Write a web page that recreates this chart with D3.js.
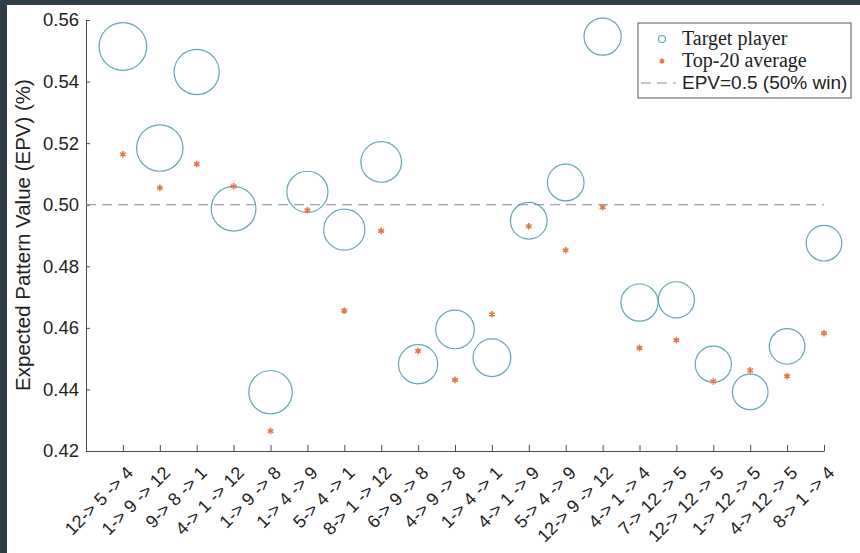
<!DOCTYPE html>
<html>
<head>
<meta charset="utf-8">
<script src="https://cdn.jsdelivr.net/npm/d3@7"></script>
<style>
  body { margin: 0; background: #2f3e46; }
  .axis text { font-family: "Liberation Sans", Arial, sans-serif; fill: #222; }
  .axis path, .axis line { stroke: #4a4a4a; }
</style>
</head>
<body>
<div id="epv"></div>
<script>
var patterns = ["12-> 5 -> 4", "1-> 9 -> 12", "9-> 8 -> 1", "4-> 1 -> 12", "1-> 9 -> 8",
                "1-> 4 -> 9", "5-> 4 -> 1", "8-> 1 -> 12", "6-> 9 -> 8", "4-> 9 -> 8",
                "1-> 4 -> 1", "4-> 1 -> 9", "5-> 4 -> 9", "12-> 9 -> 12", "4-> 1 -> 4",
                "7-> 12 -> 5", "12-> 12 -> 5", "1-> 12 -> 5", "4-> 12 -> 5", "8-> 1 -> 4"];
var targetEpv = [0.5514, 0.5184, 0.5431, 0.4987, 0.4391, 0.5042, 0.4919, 0.5139, 0.4482, 0.4595,
                 0.4503, 0.4948, 0.5072, 0.5546, 0.4682, 0.4691, 0.4482, 0.4392, 0.4540, 0.4875];
var top20Epv = [0.5164, 0.5055, 0.5132, 0.5060, 0.4265, 0.4982, 0.4656, 0.4915, 0.4525, 0.4431,
                0.4644, 0.4930, 0.4852, 0.4992, 0.4535, 0.4560, 0.4426, 0.4462, 0.4443, 0.4583];
var patternCount = [59, 56, 53, 52, 49, 44, 44, 43, 40, 39, 37, 35, 35, 36, 36, 34, 34, 33, 33, 33];
var yTicks = [0.42, 0.44, 0.46, 0.48, 0.50, 0.52, 0.54, 0.56];
var refEpv = 0.5;
var legendLabels = ["Target player", "Top-20 average", "EPV=0.5 (50% win)"];

function renderEpvPlot(){

    var outerWidth = 860, outerHeight = 553;
    var margin = {top: 20, right: 36, bottom: 102, left: 86};
    var width = outerWidth - margin.left - margin.right,
        height = outerHeight - margin.top - margin.bottom;

    var circleColor = "#63a6b7",
        starColor = "#e0784a",
        axisColor = "#4a4a4a";

    var x = d3.scaleLinear()
        .domain([0, patterns.length])
        .range([0, width]);

    var y = d3.scaleLinear()
        .domain([0.42, 0.56])
        .range([height, 0]);

    var r = d3.scaleSqrt()
        .domain([0, d3.max(patternCount)])
        .range([0, 23.8]);

    var svg = d3.select("#epv").append("svg")
        .attr("width", outerWidth)
        .attr("height", outerHeight);

    svg.append("rect")
        .attr("width", outerWidth)
        .attr("height", outerHeight)
        .style("fill", "#2f3e46");

    // white figure area, the dark frame shows on left and top only
    svg.append("rect")
        .attr("x", 7)
        .attr("y", 5)
        .attr("width", outerWidth - 7)
        .attr("height", outerHeight - 5)
        .style("fill", "#fff");

    var g = svg.append("g")
        .attr("transform", "translate(" + margin.left + "," + margin.top + ")");

    var yAxis = d3.axisLeft(y)
        .tickValues(yTicks)
        .tickFormat(d3.format(".2f"))
        .tickSizeInner(-4)
        .tickSizeOuter(0)
        .tickPadding(7);

    var xAxis = d3.axisBottom(x)
        .tickValues(d3.range(1, patterns.length + 1))
        .tickFormat(function(d) { return patterns[d - 1]; })
        .tickSizeInner(-6)
        .tickSizeOuter(0);

    g.append("g")
        .attr("class", "y axis")
        .call(yAxis)
        .selectAll("text")
        .style("font-size", "18.5px");

    g.append("g")
        .attr("class", "x axis")
        .attr("transform", "translate(0," + height + ")")
        .call(xAxis)
        .selectAll("text")
        .attr("x", 0)
        .attr("y", 0)
        .attr("dy", 0)
        .attr("text-anchor", "end")
        .attr("transform", "translate(11,23) rotate(-45)")
        .style("font-size", "18px");

    g.selectAll(".axis path, .axis line")
        .style("stroke", axisColor);

    g.append("text")
        .attr("class", "y label")
        .attr("text-anchor", "middle")
        .attr("transform", "translate(" + (30 - margin.left) + "," + (235 - margin.top) + ") rotate(-90)")
        .style("font-family", "Liberation Sans, Arial, sans-serif")
        .style("font-size", "20.5px")
        .style("fill", "#222")
        .text("Expected Pattern Value (EPV) (%)");

    g.append("line")
        .attr("x1", 0)
        .attr("x2", width)
        .attr("y1", y(refEpv))
        .attr("y2", y(refEpv))
        .style("stroke", "#8c8c8c")
        .style("stroke-width", 1)
        .style("stroke-dasharray", "10,6");

    g.selectAll(".target")
        .data(targetEpv)
        .enter().append("circle")
        .attr("class", "target")
        .attr("cx", function(d, i) { return x(i + 1); })
        .attr("cy", function(d) { return y(d); })
        .attr("r", function(d, i) { return r(patternCount[i]); })
        .style("fill", "none")
        .style("stroke", circleColor)
        .style("stroke-width", 1.2);

    var star = d3.symbol().type(d3.symbolAsterisk).size(30);

    g.selectAll(".top20")
        .data(top20Epv)
        .enter().append("path")
        .attr("class", "top20")
        .attr("d", star)
        .attr("transform", function(d, i) { return "translate(" + x(i + 1) + "," + y(d) + ")"; })
        .style("fill", "none")
        .style("stroke", starColor)
        .style("stroke-width", 1.6);

    // legend
    var lg = svg.append("g")
        .attr("transform", "translate(638,23)");

    lg.append("rect")
        .attr("width", 213)
        .attr("height", 75)
        .style("fill", "#fff")
        .style("stroke", "#555")
        .style("stroke-width", 1);

    lg.append("circle")
        .attr("cx", 24)
        .attr("cy", 16)
        .attr("r", 3.5)
        .style("fill", "none")
        .style("stroke", circleColor)
        .style("stroke-width", 1.2);

    lg.append("path")
        .attr("d", d3.symbol().type(d3.symbolAsterisk).size(20))
        .attr("transform", "translate(24,38)")
        .style("fill", "none")
        .style("stroke", starColor)
        .style("stroke-width", 1.4);

    lg.append("line")
        .attr("x1", 3)
        .attr("x2", 38)
        .attr("y1", 60)
        .attr("y2", 60)
        .style("stroke", "#8c8c8c")
        .style("stroke-dasharray", "10,6");

    lg.selectAll(".legtext")
        .data(legendLabels)
        .enter().append("text")
        .attr("class", "legtext")
        .attr("x", 44)
        .attr("y", function(d, i) { return 22 + i * 22; })
        .style("font-family", function(d, i) { return i < 2 ? "Liberation Serif, serif" : "Liberation Sans, Arial, sans-serif"; })
        .style("font-size", function(d, i) { return i < 2 ? "20px" : "19px"; })
        .style("fill", "#222")
        .text(function(d) { return d; });
}

renderEpvPlot()
</script>
</body>
</html>
